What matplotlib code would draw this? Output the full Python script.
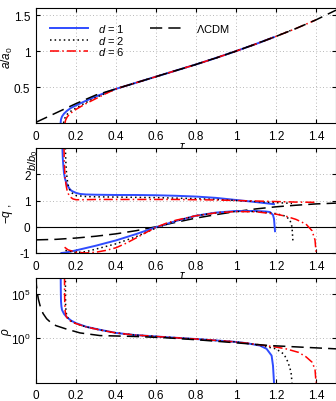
import numpy as np
import matplotlib.pyplot as plt
from matplotlib.ticker import FormatStrFormatter

plt.rcParams.update({
    "font.family": "Liberation Sans",
    "font.size": 8.5,
    "mathtext.fontset": "custom",
    "mathtext.rm": "Liberation Sans",
    "mathtext.it": "Liberation Sans:italic",
})

# ---- panel 1: a/a0 ----
tau_aL = [0.0, 0.05, 0.1, 0.15, 0.2, 0.25, 0.3, 0.4, 0.5, 0.6, 0.7, 0.8, 0.9, 1.0, 1.1, 1.2, 1.3, 1.4, 1.5]
a_L = [0.01, 0.075, 0.14, 0.205, 0.27, 0.33, 0.39, 0.475, 0.56, 0.645, 0.73, 0.815, 0.905, 1.0, 1.1, 1.205, 1.315, 1.435, 1.57]

tau_a1 = [0.123, 0.125, 0.13, 0.14, 0.155, 0.175, 0.2, 0.25, 0.3, 0.35, 0.4, 0.5, 0.6, 0.7, 0.8, 0.9, 1.0, 1.1, 1.19]
a_1 = [0.0, 0.05, 0.09, 0.13, 0.17, 0.21, 0.245, 0.31, 0.37, 0.425, 0.475, 0.56, 0.645, 0.73, 0.815, 0.905, 1.0, 1.1, 1.195]

tau_a2 = [0.138, 0.141, 0.147, 0.157, 0.172, 0.195, 0.25, 0.3, 0.35, 0.4, 0.5, 0.6, 0.7, 0.8, 0.9, 1.0, 1.1, 1.2, 1.28]
a_2 = [0.0, 0.045, 0.085, 0.125, 0.16, 0.2, 0.285, 0.355, 0.415, 0.475, 0.56, 0.645, 0.73, 0.815, 0.905, 1.0, 1.1, 1.205, 1.295]

tau_a6 = [0.145, 0.148, 0.155, 0.165, 0.18, 0.2, 0.25, 0.3, 0.35, 0.4, 0.5, 0.6, 0.7, 0.8, 0.9, 1.0, 1.1, 1.2, 1.3, 1.4]
a_6 = [0.0, 0.04, 0.08, 0.115, 0.15, 0.19, 0.27, 0.34, 0.41, 0.475, 0.56, 0.645, 0.73, 0.815, 0.905, 1.0, 1.1, 1.205, 1.315, 1.435]

# ---- panel 2: b/b0 and -q ----
tau_b1 = [0.132, 0.134, 0.137, 0.14, 0.145, 0.155, 0.17, 0.18, 0.2, 0.22, 0.25, 0.3, 0.4, 0.5, 0.6, 0.7, 0.8, 0.9, 1.0, 1.1, 1.19]
b_1 = [3.0, 2.6, 2.3, 2.05, 1.83, 1.6, 1.42, 1.36, 1.29, 1.25, 1.23, 1.22, 1.21, 1.21, 1.2, 1.18, 1.15, 1.1, 1.02, 0.94, 0.86]

tau_b2 = [0.147, 0.149, 0.152, 0.156, 0.162, 0.17, 0.185, 0.2, 0.25, 0.3, 0.4, 0.5, 0.6, 0.7, 0.8, 0.9, 1.0, 1.1, 1.2, 1.28]
b_2 = [3.0, 2.5, 2.1, 1.8, 1.55, 1.38, 1.25, 1.19, 1.15, 1.14, 1.13, 1.12, 1.11, 1.09, 1.07, 1.04, 1.0, 0.96, 0.92, 0.89]

tau_b6 = [0.14, 0.141, 0.143, 0.146, 0.15, 0.155, 0.162, 0.172, 0.185, 0.2, 0.23, 0.3, 0.4, 0.5, 0.6, 0.7, 0.8, 0.9, 1.0, 1.1, 1.2, 1.3, 1.4]
b_6 = [3.0, 2.6, 2.2, 1.85, 1.6, 1.4, 1.25, 1.13, 1.06, 1.03, 1.03, 1.04, 1.04, 1.04, 1.04, 1.04, 1.03, 1.02, 1.0, 0.98, 0.96, 0.94, 0.93]

tau_qL = [0.0, 0.1, 0.2, 0.3, 0.4, 0.5, 0.6, 0.7, 0.8, 0.9, 1.0, 1.1, 1.2, 1.3, 1.4, 1.5]
q_L = [-0.5, -0.48, -0.43, -0.36, -0.27, -0.15, 0.0, 0.17, 0.33, 0.46, 0.58, 0.68, 0.76, 0.82, 0.87, 0.9]

tau_q1 = [0.127, 0.15, 0.2, 0.3, 0.4, 0.5, 0.6, 0.7, 0.8, 0.9, 1.0, 1.1, 1.15, 1.17, 1.185, 1.19, 1.195]
q_1 = [-1.0, -0.98, -0.9, -0.72, -0.52, -0.28, -0.02, 0.22, 0.42, 0.54, 0.6, 0.6, 0.58, 0.56, 0.45, 0.3, -0.17]

tau_q2 = [0.147, 0.2, 0.25, 0.3, 0.4, 0.5, 0.6, 0.7, 0.8, 0.9, 1.0, 1.1, 1.2, 1.25, 1.27, 1.28, 1.285]
q_2 = [-0.9, -0.98, -0.95, -0.85, -0.65, -0.38, -0.05, 0.22, 0.42, 0.53, 0.58, 0.58, 0.5, 0.4, 0.25, 0.0, -0.6]

tau_q6 = [0.143, 0.16, 0.2, 0.25, 0.3, 0.35, 0.4, 0.45, 0.5, 0.55, 0.6, 0.65, 0.7, 0.8, 0.9, 1.0, 1.1, 1.2, 1.25, 1.3, 1.35, 1.38, 1.395, 1.4]
q_6 = [-0.78, -0.88, -0.97, -1.0, -0.97, -0.9, -0.8, -0.63, -0.43, -0.22, -0.02, 0.13, 0.25, 0.42, 0.53, 0.58, 0.57, 0.48, 0.4, 0.28, 0.1, -0.15, -0.5, -0.95]

# ---- panel 3: rho (log10 values) ----
tau_rL = [0.0, 0.002, 0.006, 0.012, 0.02, 0.035, 0.053, 0.075, 0.1, 0.15, 0.22, 0.32, 0.49, 0.65, 0.82, 0.99, 1.17, 1.32, 1.5]
lr_L = [7.0, 6.0, 5.2, 4.4, 3.7, 2.8, 2.2, 1.75, 1.42, 1.05, 0.6, 0.3, 0.2, 0.05, -0.2, -0.5, -0.83, -1.0, -1.2]

tau_r1 = [0.1235, 0.124, 0.125, 0.127, 0.13, 0.14, 0.153, 0.175, 0.2, 0.25, 0.32, 0.4, 0.49, 0.65, 0.82, 0.99, 1.05, 1.12, 1.153, 1.178, 1.185, 1.19]
lr_1 = [7.0, 5.5, 4.2, 3.6, 3.2, 2.75, 2.4, 2.0, 1.7, 1.3, 0.95, 0.6, 0.37, 0.12, -0.12, -0.4, -0.55, -0.83, -1.2, -1.96, -3.1, -5.0]

tau_r2 = [0.147, 0.1475, 0.148, 0.15, 0.155, 0.165, 0.18, 0.2, 0.25, 0.32, 0.4, 0.49, 0.65, 0.82, 0.99, 1.05, 1.12, 1.2, 1.24, 1.26, 1.275, 1.28]
lr_2 = [7.0, 5.0, 3.8, 3.0, 2.45, 2.1, 1.85, 1.65, 1.28, 0.93, 0.6, 0.37, 0.12, -0.12, -0.4, -0.55, -0.8, -1.2, -1.8, -2.7, -3.8, -5.0]

tau_r6 = [0.1425, 0.143, 0.144, 0.146, 0.15, 0.16, 0.175, 0.2, 0.25, 0.32, 0.4, 0.49, 0.65, 0.82, 0.99, 1.05, 1.12, 1.2, 1.25, 1.313, 1.35, 1.38, 1.395, 1.4]
lr_6 = [7.0, 5.0, 3.8, 3.0, 2.5, 2.15, 1.9, 1.65, 1.28, 0.93, 0.6, 0.37, 0.12, -0.12, -0.4, -0.55, -0.75, -1.0, -1.2, -1.6, -2.1, -2.7, -3.5, -5.0]

blue = '#2f4cff'
red = '#ff0000'
sty1 = dict(color=blue, ls='-', lw=1.4)
sty2 = dict(color='k', ls=(0, (1, 2)), lw=1.1)
sty6 = dict(color=red, ls=(0, (6, 2, 1, 2)), lw=1.1)
styL = dict(color='k', ls=(0, (8, 4)), lw=1.1)

fig = plt.figure(figsize=(3.36, 4.02), dpi=100)
W, H = 336.0, 402.0
left = 36 / W
width = 300 / W
ax1 = fig.add_axes([left, 1 - 124 / H, width, 115 / H])
ax2 = fig.add_axes([left, 1 - 254 / H, width, 105 / H])
ax3 = fig.add_axes([left, 1 - 383.5 / H, width, 104.5 / H])

h1, = ax1.plot(tau_a1, a_1, **sty1)
h2, = ax1.plot(tau_a2, a_2, **sty2)
h6, = ax1.plot(tau_a6, a_6, **sty6)
hL, = ax1.plot(tau_aL, a_L, **styL)
ax1.set_ylim(0, 1.6)
ax1.set_yticks([0.5, 1, 1.5])
fig.text(7 / W, 1 - 58 / H, '$a/a_0$', rotation=90, ha='center', va='center')

leg1 = ax1.legend([h1, h2, h6], ['$d$ = 1', '$d$ = 2', '$d$ = 6'], loc='upper left',
                  bbox_to_anchor=(0.047, 0.88), frameon=False, borderpad=0, borderaxespad=0,
                  handlelength=3.4, handletextpad=0.9, labelspacing=-0.02, fontsize=8)
ax1.add_artist(leg1)
ax1.legend([hL], [r'$\Lambda$CDM'], loc='upper left', bbox_to_anchor=(0.38, 0.88),
           frameon=False, borderpad=0, borderaxespad=0, handlelength=3.2, handletextpad=0.9,
           fontsize=8)

ax2.axhline(0, color='k', lw=0.8)
ax2.plot(tau_b1, b_1, **sty1)
ax2.plot(tau_b2, b_2, **sty2)
ax2.plot(tau_b6, b_6, **sty6)
ax2.plot(tau_qL, q_L, **styL)
ax2.plot(tau_q1, q_1, **sty1)
ax2.plot(tau_q2, q_2, **sty2)
ax2.plot(tau_q6, q_6, **sty6)
ax2.set_ylim(-1, 3)
ax2.set_yticks([-1, 0, 1, 2])
fig.text(8 / W, 1 - 214 / H, '$-q$ ,', rotation=90, ha='center', va='center')
fig.text(33 / W, 1 - 160.5 / H, '$b/b_0$', rotation=90, ha='center', va='center', fontsize=8)

ax3.plot(tau_r1, 10 ** np.array(lr_1), **sty1)
ax3.plot(tau_r2, 10 ** np.array(lr_2), **sty2)
ax3.plot(tau_r6, 10 ** np.array(lr_6), **sty6)
ax3.plot(tau_rL, 10 ** np.array(lr_L), **styL)
ax3.set_yscale('log')
ax3.set_ylim(1e-5, 10 ** 6.8)
ax3.set_yticks([1, 1e5])
ax3.set_yticklabels(['$10^0$', '$10^5$'])
ax3.minorticks_off()
fig.text(7 / W, 1 - 332 / H, r'$\rho$', rotation=90, ha='center', va='center')

for ax in (ax1, ax2, ax3):
    ax.set_xlim(0, 1.5)
    ax.set_xticks([0, 0.2, 0.4, 0.6, 0.8, 1, 1.2, 1.4])
    ax.xaxis.set_major_formatter(FormatStrFormatter('%g'))
    ax.grid(True, color='#a0a0a0', ls=(0, (1, 3)), lw=0.6)
    ax.tick_params(direction='in', length=3, top=True, right=True)
    ax.tick_params(axis='x', pad=5)
    ax.tick_params(axis='y', pad=4)
for ax in (ax1, ax2):
    ax.set_xlabel(r'$\tau$')
    ax.xaxis.set_label_coords(0.487, -0.15)
ax2.yaxis.set_major_formatter(FormatStrFormatter('%g'))
ax1.yaxis.set_major_formatter(FormatStrFormatter('%g'))

plt.savefig('out.png', dpi=100)
